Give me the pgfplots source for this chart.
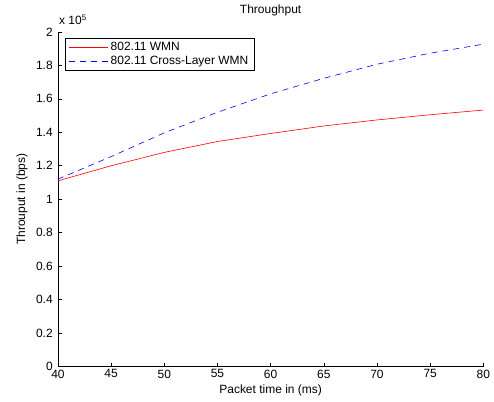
\documentclass[border=0pt]{standalone}
\usepackage{pgfplots}
\pgfplotsset{compat=1.18}
\usepackage{fontspec}
\setmainfont{Liberation Sans}
\begin{document}
\fontsize{12pt}{14pt}\selectfont
\begin{tikzpicture}
\begin{axis}[
  name=ax,
  scale only axis,
  width=426pt, height=335pt,
  xmin=40, xmax=80, ymin=0, ymax=200000,
  axis lines*=left,
  axis line style={black, line width=0.6pt},
  tick align=inside,
  major tick length=4pt,
  tick style={black, line width=0.6pt},
  xtick={40,45,...,80},
  ytick={0,20000,...,200000},
  scaled y ticks=base 10:-5,
  ytick scale label code/.code={},
  yticklabel style={/pgf/number format/fixed, /pgf/number format/precision=1, xshift=-1pt},
  /pgf/number format/assume math mode=true,
  ticklabel style={font=\fontsize{12pt}{14pt}\selectfont},
  xticklabel style={yshift=1pt},
  title={Throughput},
  title style={font=\fontsize{12pt}{14pt}\selectfont, at={([yshift=12pt]axis description cs:0.5,1)}, anchor=base},
  xlabel={Packet time in (ms)},
  ylabel={Throuput in (bps)},
  xlabel style={at={([yshift=-24pt]axis description cs:0.5,0)}, anchor=center},
  ylabel style={at={([xshift=-36pt]axis description cs:0,0.5)}, anchor=center},
  legend style={at={(0.0164,0.982)}, anchor=north west, draw=black, line width=0.6pt,
    font=\fontsize{12pt}{14pt}\selectfont, inner xsep=4pt, inner ysep=2pt,
    row sep=0pt, legend cell align=left},
  legend image code/.code={\draw[#1] (0pt,0pt) -- (39pt,0pt);},
]
\addplot[red, line width=0.6pt] coordinates {
(40,111000) (45,120000) (50,128000) (55,134500) (60,139300) (65,143800) (70,147400) (75,150500) (80,153300)
};
\addlegendentry{802.11 WMN}
\addplot[blue, line width=0.6pt, dash pattern=on 6pt off 5pt] coordinates {
(40,112000) (45,125500) (50,139700) (55,152000) (60,163000) (65,172300) (70,180700) (75,187300) (80,192700)
};
\addlegendentry{802.11 Cross-Layer WMN}
\end{axis}
\node[anchor=base west, inner sep=0pt] at ([xshift=1pt,yshift=7pt]ax.north west) {x 10\raisebox{0.7ex}{\fontsize{8pt}{9pt}\selectfont 5}};
\useasboundingbox ([xshift=-58pt,yshift=-35pt]ax.south west) rectangle ([xshift=10pt,yshift=32pt]ax.north east);
\end{tikzpicture}
\end{document}
